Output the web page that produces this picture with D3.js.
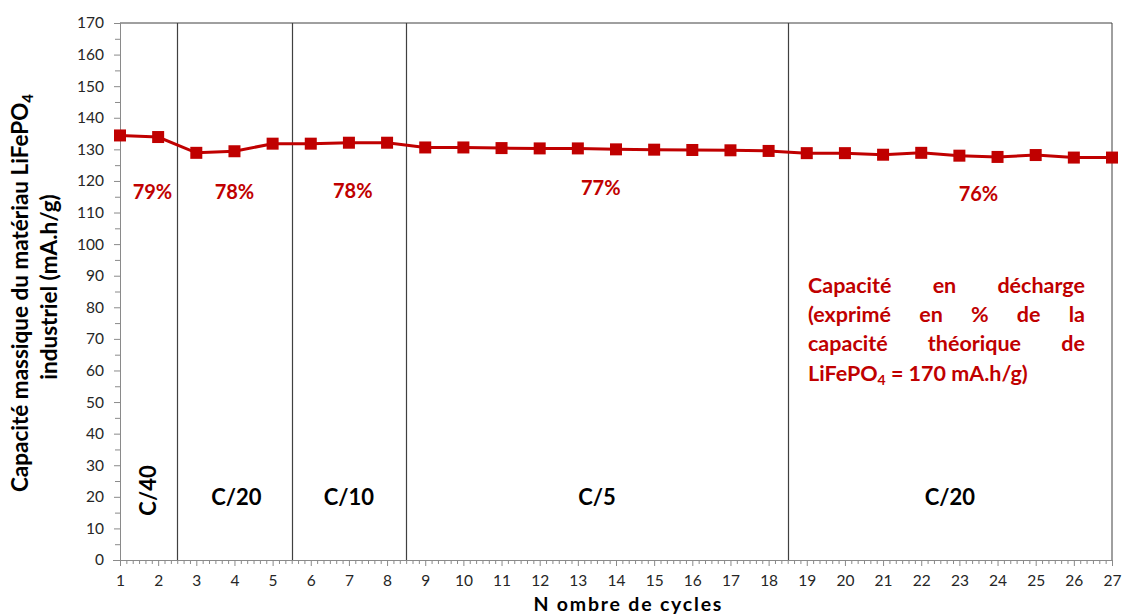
<!DOCTYPE html>
<html lang="fr">
<head>
<meta charset="utf-8">
<script src="https://cdn.jsdelivr.net/npm/d3@7"></script>
<style>
  html, body { margin: 0; padding: 0; background: #fff; }
  svg { display: block; font-family: Lato, "Open Sans", sans-serif; }
</style>
</head>
<body>
<svg id="chart" width="1123" height="615"></svg>
<script>
// Cycle numbers and measured discharge capacity (mA.h/g)
const cycles = d3.range(1, 28);
const capacity = [134.4, 133.9, 128.9, 129.4, 131.8, 131.8, 132.1, 132.1,
                  130.6, 130.6, 130.4, 130.3, 130.3, 130.0, 129.9, 129.8, 129.7, 129.5,
                  128.8, 128.8, 128.3, 128.9, 128.0, 127.6, 128.2, 127.4, 127.4];

// C-rate regimes: first and last cycle, rate label, percentage of theoretical capacity
const regimes = [
  { from: 1,  to: 2,  rate: "C/40", pct: "79%" },
  { from: 3,  to: 5,  rate: "C/20", pct: "78%" },
  { from: 6,  to: 8,  rate: "C/10", pct: "78%" },
  { from: 9,  to: 18, rate: "C/5",  pct: "77%" },
  { from: 19, to: 27, rate: "C/20", pct: "76%" }
];

const yTicks = d3.range(0, 171, 10);
const yMinorTicks = d3.range(5, 170, 10);

const red = "#C00000";
const svg = d3.select("#chart");

const x = d3.scaleLinear().domain([1, 27]).range([120, 1112]);
const y = d3.scaleLinear().domain([0, 170]).range([560, 23]);

// Plot-area frame (top and right edges)
svg.append("path")
  .attr("d", `M${x(1)},${y(170)}H${x(27)}V${y(0)}`)
  .attr("fill", "none").attr("stroke", "#404040").attr("stroke-width", 1);

// Separators between regimes
const seps = regimes.slice(1).map(r => r.from - 0.5);
svg.selectAll("line.sep").data(seps).join("line")
  .attr("class", "sep")
  .attr("x1", d => Math.round(x(d)) + 0.5).attr("x2", d => Math.round(x(d)) + 0.5)
  .attr("y1", y(170)).attr("y2", y(0))
  .attr("stroke", "#404040").attr("stroke-width", 1.2);

// Y axis
const yMinor = svg.append("g").attr("transform", `translate(${x(1)},0)`)
  .call(d3.axisLeft(y).tickValues(yMinorTicks).tickSize(5).tickFormat(""));
const yAxis = svg.append("g").attr("transform", `translate(${x(1)},0)`)
  .call(d3.axisLeft(y).tickValues(yTicks).tickSize(6).tickPadding(10));
[yMinor, yAxis].forEach(g => {
  g.selectAll("path, line").attr("stroke", "#8a8a8a");
});
yAxis.selectAll("text").attr("font-size", 15.5).attr("fill", "#262626")
  .attr("font-family", "Lato, sans-serif");

// X axis
const xMinorTicks = d3.range(1, 27, 1 / 6).filter((d, i) => i % 6 !== 0);
const xMinor = svg.append("g").attr("transform", `translate(0,${y(0)})`)
  .call(d3.axisBottom(x).tickValues(xMinorTicks).tickSize(4).tickFormat(""));
const xAxis = svg.append("g").attr("transform", `translate(0,${y(0)})`)
  .call(d3.axisBottom(x).tickValues(cycles).tickSize(6).tickPadding(9).tickFormat(d3.format("d")));
[xMinor, xAxis].forEach(g => {
  g.selectAll("path, line").attr("stroke", "#8a8a8a");
  g.select("path.domain").attr("d", `M${x(1) - 7},0.5H${x(27)}`);
});
xAxis.selectAll("text").attr("font-size", 15.5).attr("fill", "#262626")
  .attr("font-family", "Lato, sans-serif");

// Capacity line and square markers
const line = d3.line().x((d, i) => x(cycles[i])).y(d => y(d));
svg.append("path").datum(capacity)
  .attr("d", line).attr("fill", "none")
  .attr("stroke", red).attr("stroke-width", 3);
const m = 12;
svg.selectAll("rect.pt").data(capacity).join("rect")
  .attr("class", "pt")
  .attr("x", (d, i) => x(cycles[i]) - m / 2).attr("y", d => y(d) - m / 2)
  .attr("width", m).attr("height", m).attr("fill", red);

// Percentage labels
const pctPos = [
  { c: 1.85, v: 114.4 }, { c: 4.0, v: 114.4 }, { c: 7.1, v: 114.7 },
  { c: 13.6, v: 115.5 }, { c: 23.5, v: 113.7 }
];
svg.selectAll("text.pct").data(regimes).join("text")
  .attr("class", "pct")
  .attr("x", (d, i) => x(pctPos[i].c)).attr("y", (d, i) => y(pctPos[i].v))
  .attr("text-anchor", "middle").attr("font-size", 20).attr("font-weight", 700)
  .attr("fill", red).text(d => d.pct);

// Rate labels
const ratePos = [1.73, 4.05, 7.0, 13.5, 22.75];
svg.selectAll("text.rate").data(regimes).join("text")
  .attr("class", "rate")
  .attr("font-size", 22).attr("font-weight", 700).attr("fill", "#000")
  .attr("text-anchor", "middle")
  .attr("transform", (d, i) => i === 0
    ? `translate(${x(ratePos[i]) + 8},${y(22)}) rotate(-90)`
    : `translate(${x(ratePos[i])},${y(17.3)})`)
  .text(d => d.rate);

// Explanatory note, justified
const noteLines = [
  ["Capacité", "en", "décharge"],
  ["(exprimé", "en", "%", "de", "la"],
  ["capacité", "théorique", "de"]
];
const noteLeft = 808, noteRight = 1085, noteTop = 293, noteStep = 29.2;
const note = svg.append("g").attr("font-size", 21.5).attr("font-weight", 700).attr("fill", red);
noteLines.forEach((words, li) => {
  const texts = words.map(w => note.append("text").attr("y", noteTop + li * noteStep).text(w));
  const widths = texts.map(t => t.node().getComputedTextLength());
  const gap = (noteRight - noteLeft - d3.sum(widths)) / (words.length - 1);
  let cx = noteLeft;
  texts.forEach((t, k) => { t.attr("x", cx); cx += widths[k] + gap; });
});
const last = note.append("text").attr("x", noteLeft).attr("y", noteTop + 3 * noteStep);
last.append("tspan").text("LiFePO");
last.append("tspan").attr("font-size", 14).attr("dy", 4).text("4");
last.append("tspan").attr("dy", -4).text(" = 170 mA.h/g)");

// Axis titles
const yTitle = svg.append("g").attr("font-size", 22.5).attr("font-weight", 700).attr("fill", "#000");
const t1 = yTitle.append("text").attr("text-anchor", "middle")
  .attr("transform", "translate(28,293) rotate(-90)");
t1.append("tspan").text("Capacité massique du matériau LiFePO");
t1.append("tspan").attr("font-size", 15).attr("dy", 5).text("4");
yTitle.append("text").attr("text-anchor", "middle")
  .attr("transform", "translate(57,287) rotate(-90)")
  .text("industriel (mA.h/g)");

svg.append("text").attr("x", x(14.3)).attr("y", 611).attr("text-anchor", "middle")
  .attr("font-size", 19.5).attr("font-weight", 700).attr("fill", "#000")
  .attr("textLength", 188).attr("lengthAdjust", "spacing")
  .text("N ombre de cycles");
</script>
</body>
</html>
